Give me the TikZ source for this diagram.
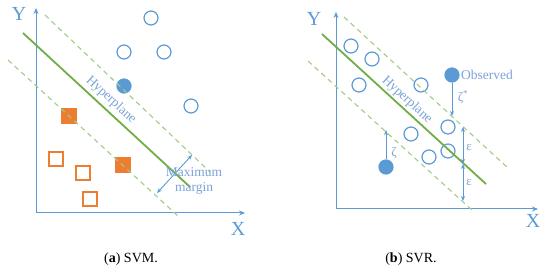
\documentclass[tikz,border=0pt]{standalone}
\usepackage{fontspec}
\setmainfont{Liberation Serif}
\usetikzlibrary{arrows.meta}
\definecolor{cblue}{HTML}{5B9BD5}
\definecolor{corange}{HTML}{ED7D31}
\definecolor{cgreen}{HTML}{70AD47}
\definecolor{clgreen}{HTML}{A0CC84}
\definecolor{ctext}{HTML}{7BA3D6}
\tikzset{
  axis/.style={draw=cblue, line width=1pt, {Stealth[length=6pt,width=5pt]}-{Stealth[length=6pt,width=5pt]}},
  hyper/.style={draw=cgreen, line width=1.8pt},
  marginline/.style={draw=clgreen, line width=1.1pt, dash pattern=on 5pt off 4pt},
  opendot/.style={circle, draw=cblue, line width=1.2pt, minimum size=14pt, inner sep=0pt},
  filldot/.style={opendot, fill=cblue},
  opensq/.style={rectangle, draw=corange, line width=1.1pt, minimum size=14pt, inner sep=0pt},
  fillsq/.style={opensq, fill=corange},
  lbl/.style={text=ctext, font=\fontsize{13.5}{15.5}\selectfont, inner sep=0pt},
  greek/.style={text=ctext, font=\fontsize{13}{14}\selectfont, inner sep=0pt},
  axlbl/.style={text=cblue, font=\fontsize{20}{20}\selectfont, inner sep=0pt},
  dimarrow/.style={draw=cblue, line width=0.9pt, {Stealth[length=5pt,width=4pt]}-{Stealth[length=5pt,width=4pt]}},
  onearrow/.style={draw=cblue, line width=0.9pt, -{Stealth[length=5pt,width=4pt]}},
  caption/.style={text=black, font=\fontsize{14}{16}\selectfont, inner sep=0pt}
}
\begin{document}
\begin{tikzpicture}[x=1pt,y=-1pt]
\useasboundingbox (0,0) rectangle (550,270);
% ---------------- (a) SVM ----------------
\coordinate (O1) at (36,213);
\coordinate (Y1) at (36,8);
\coordinate (X1) at (245,213);
\draw[axis] (Y1) -- (O1) -- (X1);
\node[axlbl] (ylab1) at (19,14) {Y};
\node[axlbl] (xlab1) at (238,229) {X};
% points
\node[opendot] (a1) at (151,18) {};
\node[opendot] (a2) at (124,52) {};
\node[opendot] (a3) at (164,52) {};
\node[opendot] (a4) at (191,106) {};
\node[filldot] (a5) at (124,86) {};
\node[fillsq] (s1) at (69,116) {};
\node[fillsq] (s2) at (123,165) {};
\node[opensq] (s3) at (56,159) {};
\node[opensq] (s4) at (83,173) {};
\node[opensq] (s5) at (90,199) {};
% lines
\coordinate (u1a) at (45,15);   \coordinate (u1b) at (210,172);
\coordinate (h1a) at (23,33);   \coordinate (h1b) at (190,187);
\coordinate (l1a) at (8,60);    \coordinate (l1b) at (178,216);
\draw[marginline] (u1a) -- (u1b);
\draw[hyper] (h1a) -- (h1b);
\draw[marginline] (l1a) -- (l1b);
\node[lbl, rotate=-42.7] (hp1) at (111,100) {Hyperplane};
\coordinate (mm1) at (157,193);
\coordinate (mm2) at (192,155);
\draw[dimarrow] (mm1) -- (mm2);
\node[lbl, align=center] (mmlab) at (194,181) {Maximum\\margin};
\node[caption] (cap1) at (131,259) {(\textbf{a}) SVM.};
% ---------------- (b) SVR ----------------
\coordinate (O2) at (336,209);
\coordinate (Y2) at (336,12);
\coordinate (X2) at (538,209);
\draw[axis] (Y2) -- (O2) -- (X2);
\node[axlbl] (ylab2) at (314,19) {Y};
\node[axlbl] (xlab2) at (533,221) {X};
\node[opendot] (b1) at (351,46) {};
\node[opendot] (b2) at (372,59) {};
\node[opendot] (b3) at (359,85) {};
\node[opendot] (b4) at (421,85) {};
\node[opendot] (b5) at (448,127) {};
\node[opendot] (b6) at (411,134) {};
\node[opendot] (b7) at (448,151) {};
\node[opendot] (b8) at (429,157) {};
\node[filldot] (obs) at (452,75) {};
\node[filldot] (low) at (386,167) {};
\coordinate (u2a) at (344,17);  \coordinate (u2b) at (508,168);
\coordinate (h2a) at (322,34);  \coordinate (h2b) at (486,184);
\coordinate (l2a) at (308,61);  \coordinate (l2b) at (473,211);
\draw[marginline] (u2a) -- (u2b);
\draw[hyper] (h2a) -- (h2b);
\draw[marginline] (l2a) -- (l2b);
\node[lbl, rotate=-42.5] (hp2) at (407,100) {Hyperplane};
\node[lbl, anchor=west] (obslab) at (461,75) {Observed};
\coordinate (zs) at (452,116);
\draw[onearrow] (obs) -- (zs);
\node[greek] (zslab) at (463,97) {ζ\textsuperscript{*}};
\coordinate (zl) at (386,130);
\draw[onearrow] (low) -- (zl);
\node[greek] (zllab) at (394,153) {ζ};
\coordinate (e1) at (463,127);
\coordinate (e2) at (463,164);
\coordinate (e3) at (463,201);
\draw[dimarrow] (e1) -- (e2);
\draw[dimarrow] (e2) -- (e3);
\node[greek] (ep1) at (469,148) {ε};
\node[greek] (ep2) at (469,183) {ε};
\node[caption] (cap2) at (411,259) {(\textbf{b}) SVR.};
\end{tikzpicture}
\end{document}
